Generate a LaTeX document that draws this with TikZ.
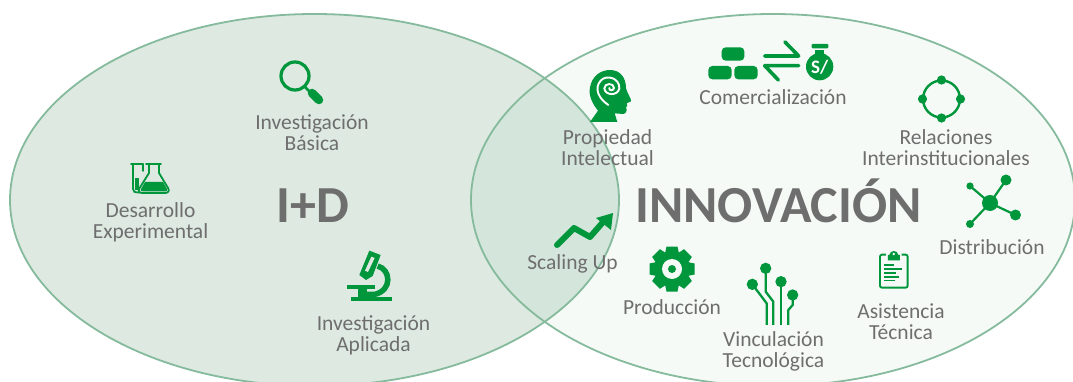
\documentclass[tikz,border=0pt]{standalone}
\usepackage{fontspec}
\setmainfont{Carlito}
\definecolor{igreen}{HTML}{00963C}
\definecolor{itext}{HTML}{6E6E6E}
\definecolor{iedge}{HTML}{85BB9C}
\definecolor{ileft}{HTML}{DDE9E1}
\definecolor{iright}{HTML}{F5FAF7}
\definecolor{iboth}{HTML}{D4E5DC}
\tikzset{
 lbl/.style={text=itext,font=\fontsize{21.5}{21}\selectfont,align=center,inner sep=0pt},
 big/.style={text=itext,font=\fontsize{52}{52}\selectfont\bfseries,inner sep=0pt,anchor=base},
 ic/.style={igreen,line width=#1,line cap=round,line join=round},
 ic/.default=2pt
}
\begin{document}
\begin{tikzpicture}[x=1pt,y=-1pt]
\useasboundingbox (0,0) rectangle (1073,382);
\begin{scope}
\clip (0,0) rectangle (1073,382);
\path[fill=ileft] (314.5,200) ellipse[x radius=304.5,y radius=186];
\path[fill=iright] (773,200) ellipse[x radius=302,y radius=186];
\begin{scope}
\clip (314.5,200) ellipse[x radius=304.5,y radius=186];
\path[fill=iboth] (773,200) ellipse[x radius=302,y radius=186];
\end{scope}
\draw[iedge,line width=1.8pt] (314.5,200) ellipse[x radius=304.5,y radius=186];
\draw[iedge,line width=1.8pt] (773,200) ellipse[x radius=302,y radius=186];
\end{scope}

% texts
\node[big] (idlab) at (312.5,222.5) {I+D};
\node[big] (innov) at (778.5,222.5) {INNOVACIÓN};
\node[lbl] (ib) at (312,133) {Investigación\\Básica};
\node[lbl] (de) at (150.5,222) {Desarrollo\\Experimental};
\node[lbl] (ia) at (373.5,335) {Investigación\\Aplicada};
\node[lbl] (pi) at (607.5,147.5) {Propiedad\\Intelectual};
\node[lbl] (co) at (773,97) {Comercialización};
\node[lbl] (re) at (946,147.5) {Relaciones\\Interinstitucionales};
\node[lbl] (di) at (992,247) {Distribución};
\node[lbl] (sc) at (572.5,264) {Scaling Up};
\node[lbl] (pr) at (672,307) {Producción};
\node[lbl] (vi) at (773.5,351) {Vinculación\\Tecnológica};
\node[lbl] (as) at (901,322) {Asistencia\\Técnica};

% magnifier
\draw[ic=3.2pt] (295,76) circle (14);
\draw[ic=2.5pt] (304,86) -- (310,92);
\draw[igreen,line width=8.5pt,line cap=round] (312,93) -- (319,100);

% flasks
\begin{scope}[shift={(130,163)}]
\draw[ic=1.6pt] (1,1) -- (13,1);
\draw[ic=1.7pt] (3,1) -- (3,26) .. controls (3,29) and (5,29.5) .. (8,29.5) -- (10,29.5);
\draw[ic=1.5pt] (13,1) -- (13,8);
\fill[igreen] (5,15) -- (9,15) -- (9,27) -- (5,27) -- cycle;
\draw[ic=1.8pt] (16,1) -- (31,1);
\draw[ic=1.8pt] (19,1) -- (19,10) -- (9,26) .. controls (8,29) and (10,30) .. (12,30) -- (35,30) .. controls (38,30) and (40,28) .. (38,25) -- (29,10) -- (29,1);
\fill[igreen] (15,19) -- (33,19) -- (37,26) .. controls (38,28) and (36,28.5) .. (35,28.5) -- (13,28.5) .. controls (11,28.5) and (10,27) .. (11,26) -- cycle;
\end{scope}

% microscope
\begin{scope}[shift={(330,240)},scale=0.3333]
\fill[igreen] (62,172) rectangle (185,184);
\fill[igreen] (52,135) rectangle (135,148);
\fill[igreen] (85,148) -- (110,148) -- (110,172) -- (85,172) -- cycle;
\draw[igreen,line width=5.5pt] (143,78) .. controls (182,88) and (188,150) .. (135,163) -- (100,163);
\fill[igreen] (118,32) -- (152,45) -- (128,108) -- (108,120) -- (88,105) -- cycle;
\fill[ileft] (124,50) -- (134,54) -- (114,96) -- (105,92) -- cycle;
\end{scope}

% head
\begin{scope}[shift={(570,60)},scale=0.3333]
\fill[igreen] (60,186) -- (84,152) .. controls (66,130) and (55,105) .. (60,82) .. controls (66,48) and (92,30) .. (120,30) .. controls (150,30) and (168,52) .. (168,85) .. controls (172,100) and (185,118) .. (183,124) -- (170,130) .. controls (174,136) and (172,140) .. (168,142) .. controls (172,150) and (170,160) .. (160,162) -- (134,160) -- (142,186) -- cycle;
\draw[white,line width=1.9pt,line cap=round] (115,135) .. controls (85,115) and (72,85) .. (92,62) .. controls (110,42) and (150,55) .. (148,85) .. controls (145,108) and (105,108) .. (103,85) .. controls (103,68) and (132,68) .. (132,84) .. controls (130,94) and (116,92) .. (118,84);
\end{scope}

% commerce
\begin{scope}[shift={(690,30)},scale=0.3333]
\fill[igreen,rounded corners=4pt] (95,52) rectangle (163,92);
\fill[igreen,rounded corners=4pt] (55,108) rectangle (125,148);
\fill[igreen,rounded corners=4pt] (133,108) rectangle (203,148);
\draw[ic=3.6pt] (224,78) -- (326,78) -- (285,36);
\draw[ic=3.6pt] (326,107) -- (224,107) -- (265,150);
\fill[igreen] (389,110) circle (41);
\fill[igreen] (375,60) rectangle (403,80);
\fill[igreen,rounded corners=1pt] (365,42) rectangle (415,55);
\node[text=white,font=\fontsize{19}{19}\selectfont\bfseries,inner sep=0pt] (soles) at (389,111) {S/};
\end{scope}

% relations
\draw[ic=2.4pt] (941.5,99) circle (18.5);
\foreach \a in {0,90,180,270}{\fill[igreen] (941.5,99) ++(\a:19) circle (4.6);}

% distribution
\coordinate (dc) at (990,203);
\coordinate (d1) at (1006,180);
\coordinate (d2) at (1015.5,215);
\coordinate (d3) at (970,224);
\coordinate (d4) at (970,186);
\draw[ic=2.2pt] (dc) -- (d1) (dc) -- (d2) (dc) -- (d3) (dc) -- (d4);
\fill[igreen] (dc) circle (8) (d1) circle (5.5) (d2) circle (5.5) (d3) circle (4) (d4) circle (3.6);

% scaling arrow
\draw[ic=6pt] (557,245) -- (574,228) -- (590,237) -- (604,221);
\fill[igreen] (596,218) -- (613,213) -- (611,230) -- cycle;

% gear
\fill[igreen] (672,269) circle (17);
\foreach \a in {0,45,...,315}{\fill[igreen,rotate around={\a:(672,269)}] (666.5,246.5) -- (677.5,246.5) -- (679.5,256) -- (664.5,256) -- cycle;}
\fill[iright] (672,269) circle (10);
\fill[igreen] (672,269) circle (4);

% circuit
\begin{scope}[shift={(730,245)},scale=0.3333]
\draw[ic=2.3pt,line cap=butt] (107,70) -- (107,140) -- (130,170) -- (130,240);
\draw[ic=2.3pt,line cap=butt] (67,118) -- (110,175) -- (110,240);
\draw[ic=2.3pt,line cap=butt] (153,110) -- (153,240);
\draw[ic=2.3pt,line cap=butt] (188,150) -- (188,180) -- (175,195) -- (175,240);
\fill[igreen] (107,70) circle (17) (67,118) circle (17) (153,110) circle (17) (188,150) circle (17);
\end{scope}

% clipboard
\begin{scope}[shift={(730,245)},scale=0.3333]
\draw[igreen,line width=1.9pt,rounded corners=2pt] (468,29) -- (450,29) -- (450,128) -- (533,128) -- (533,29) -- (515,29);
\fill[igreen] (474,30) -- (478,30) .. controls (480,14) and (503,14) .. (505,30) -- (510,30) -- (510,46) -- (474,46) -- cycle;
\fill[iright] (491.5,27) circle (4);
\draw[igreen,line width=1.4pt] (462,60) -- (492,60) (462,72) -- (516,72) (462,84) -- (498,84) (462,96) -- (506,96) (462,107) -- (496,107);
\end{scope}
\end{tikzpicture}
\end{document}
